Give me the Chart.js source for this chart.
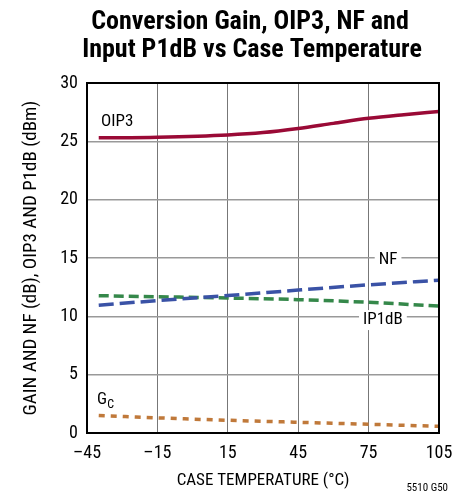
<!DOCTYPE html>
<html>
<head>
<meta charset="utf-8">
<script src="https://cdn.jsdelivr.net/npm/chart.js@4"></script>
<style>
  body { margin: 0; background: #fff; }
</style>
</head>
<body>
<canvas id="chart" width="469" height="495"></canvas>
<script>
const FONT = '"Liberation Sans Narrow", "Roboto Condensed", "Liberation Sans", sans-serif';

// temperatures (°C)
const tempOIP3 = [-40, -15, 15, 30, 45, 60, 75, 90, 105];
const oip3 = [25.3, 25.36, 25.55, 25.75, 26.1, 26.54, 26.97, 27.28, 27.55];

const tempNF = [-40, -15, 15, 45, 75, 105];
const nf = [10.95, 11.35, 11.78, 12.25, 12.7, 13.1];

const tempIP1dB = [-40, -15, 15, 45, 75, 105];
const ip1db = [11.77, 11.68, 11.57, 11.43, 11.2, 10.88];

const tempGc = [-40, -15, 15, 45, 75, 105];
const gc = [1.49, 1.3, 1.09, 0.92, 0.75, 0.57];

const xTicks = [-45, -15, 15, 45, 75, 105];

function pts(xs, ys) {
    return xs.map((x, i) => ({ x: x, y: ys[i] }));
}

// Texte auf dem Diagramm
const labelPlugin = {
    id: 'labels',
    afterDraw(chart) {
        const ctx = chart.ctx;
        const xs = chart.scales.x, ys = chart.scales.y;
        ctx.save();
        ctx.fillStyle = '#000';
        ctx.textBaseline = 'middle';

        // Titel
        ctx.textAlign = 'center';
        ctx.font = 'bold 26px ' + FONT;
        ctx.fillText('Conversion Gain, OIP3, NF and', 250, 22);
        ctx.fillText('Input P1dB vs Case Temperature', 252, 50);

        ctx.font = '17px ' + FONT;
        ctx.textAlign = 'left';
        ctx.fillText('OIP3', xs.getPixelForValue(-39), ys.getPixelForValue(26.65));

        // NF / IP1dB with white boxes
        const boxed = (t, tx, ty) => {
            const px = xs.getPixelForValue(tx), py = ys.getPixelForValue(ty);
            const w = ctx.measureText(t).width;
            ctx.fillStyle = '#fff';
            ctx.fillRect(px - w / 2 - 4, py - 10, w + 8, 20);
            ctx.fillStyle = '#000';
            ctx.textAlign = 'center';
            ctx.fillText(t, px, py);
        };
        boxed('NF', 83.3, 14.83);
        boxed('IP1dB', 81.1, 9.68);

        // G_C
        ctx.textAlign = 'left';
        const gx = xs.getPixelForValue(-40.7), gy = ys.getPixelForValue(2.83);
        ctx.fillText('G', gx, gy);
        const gw = ctx.measureText('G').width;
        ctx.font = '12px ' + FONT;
        ctx.fillText('C', gx + gw, gy + 5);

        ctx.font = '11px ' + FONT;
        ctx.textAlign = 'right';
        ctx.fillText('5510 G50', 448, 488);
        ctx.restore();
    }
};

new Chart(document.getElementById('chart'), {
    type: 'line',
    data: {
        datasets: [
            {
                label: 'OIP3',
                data: pts(tempOIP3, oip3),
                borderColor: '#9a0a36',
                borderWidth: 3.5,
                cubicInterpolationMode: 'monotone'
            },
            {
                label: 'NF',
                data: pts(tempNF, nf),
                borderColor: '#3a52a6',
                borderWidth: 3.5,
                borderDash: [15, 6],
                cubicInterpolationMode: 'monotone'
            },
            {
                label: 'IP1dB',
                data: pts(tempIP1dB, ip1db),
                borderColor: '#35884a',
                borderWidth: 3.5,
                borderDash: [10, 5],
                cubicInterpolationMode: 'monotone'
            },
            {
                label: 'GC',
                data: pts(tempGc, gc),
                borderColor: '#c0793a',
                borderWidth: 3.5,
                borderDash: [6, 6],
                cubicInterpolationMode: 'monotone'
            }
        ]
    },
    options: {
        responsive: false,
        animation: false,
        events: [],
        layout: { padding: { top: 83, right: 30, left: 0, bottom: 0 } },
        elements: { point: { radius: 0 } },
        plugins: { legend: { display: false }, tooltip: { enabled: false } },
        scales: {
            x: {
                type: 'linear',
                min: -45,
                max: 105,
                afterBuildTicks: s => { s.ticks = xTicks.map(v => ({ value: v })); },
                afterFit: s => { s.height = 62; },
                ticks: {
                    color: '#000',
                    font: { family: FONT, size: 18 },
                    padding: 10,
                    maxRotation: 0,
                    callback: v => String(v).replace('-', '\u2013')
                },
                grid: { color: '#777', lineWidth: 1, drawTicks: false },
                border: { color: '#000', width: 2 },
                title: {
                    display: true,
                    text: 'CASE TEMPERATURE (°C)',
                    color: '#000',
                    font: { family: FONT, size: 17 },
                    padding: { top: 2 }
                }
            },
            y: {
                min: 0,
                max: 30,
                afterFit: s => { s.width = 87; },
                ticks: {
                    stepSize: 5,
                    color: '#000',
                    font: { family: FONT, size: 18 },
                    padding: 9
                },
                grid: { color: '#999', lineWidth: 1.5, drawTicks: false },
                border: { color: '#000', width: 2 },
                title: {
                    display: true,
                    text: 'GAIN AND NF (dB), OIP3 AND P1dB (dBm)',
                    color: '#000',
                    font: { family: FONT, size: 19 },
                    padding: { top: 20, bottom: 4 }
                }
            }
        }
    },
    plugins: [labelPlugin, {
        id: 'rightBorder',
        afterDatasetsDraw(chart) {
            const a = chart.chartArea, ctx = chart.ctx;
            ctx.save();
            ctx.strokeStyle = '#000';
            ctx.lineWidth = 2;
            ctx.beginPath();
            ctx.moveTo(a.left, a.top);
            ctx.lineTo(a.right, a.top);
            ctx.lineTo(a.right, a.bottom);
            ctx.stroke();
            ctx.restore();
        }
    }]
});
</script>
</body>
</html>
